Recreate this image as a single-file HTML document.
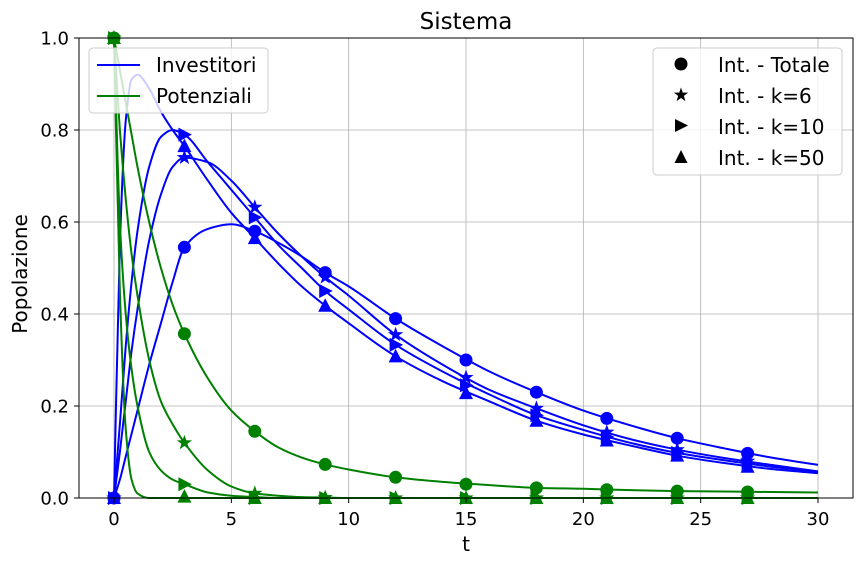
<!DOCTYPE html>
<html><head><meta charset="utf-8"><style>
html,body{margin:0;padding:0;background:#fff;}
svg text{font-family:"DejaVu Sans","Liberation Sans",sans-serif;}
</style></head><body>
<svg id="chart" width="863" height="564" xmlns="http://www.w3.org/2000/svg">
<g id="grid"></g>
<g id="lines"></g>
<g id="marks"></g>
<rect x="79" y="38" width="774" height="460" fill="none" stroke="#000" stroke-width="1"/>
<g id="ticks"></g>
<text x="466" y="29" font-size="23" text-anchor="middle">Sistema</text>
<text x="466" y="551" font-size="20" text-anchor="middle">t</text>
<text x="27" y="274" font-size="20" text-anchor="middle" transform="rotate(-90 27 274)">Popolazione</text>
<g>
<rect x="89" y="48" width="179" height="65" rx="4" fill="#fff" fill-opacity="0.8" stroke="#ccc"/>
<line x1="97" y1="65" x2="140" y2="65" stroke="#0000ff" stroke-width="2"/>
<text x="156" y="72" font-size="20">Investitori</text>
<line x1="97" y1="96" x2="140" y2="96" stroke="#008000" stroke-width="2"/>
<text x="156" y="103" font-size="20">Potenziali</text>
</g>
<g>
<rect x="653" y="48" width="189" height="127" rx="4" fill="#fff" fill-opacity="0.8" stroke="#ccc"/>
<circle cx="681" cy="64" r="6.5" fill="#000"/>
<text x="718" y="72" font-size="20">Int. - Totale</text>
<polygon id="lgstar" fill="#000"/>
<text x="718" y="103" font-size="20">Int. - k=6</text>
<polygon points="675,119 675,132 688,125.5" fill="#000"/>
<text x="718" y="134" font-size="20">Int. - k=10</text>
<polygon points="674.5,163 687.5,163 681,150" fill="#000"/>
<text x="718" y="165" font-size="20">Int. - k=50</text>
</g>
</svg>
<script>
const tGrid=[0,0.25,0.5,0.75,1,1.5,2,2.5,3,4,5,6,7,8,9,10,12,14,16,18,20,22,24,26,28,30];
const invTotale=[0,.04,.09,.14,.19,.29,.38,.47,.545,.585,.595,.58,.555,.525,.49,.46,.39,.33,.275,.23,.19,.158,.13,.108,.088,.072];
const invK6=[0,.1,.21,.32,.41,.56,.66,.72,.74,.73,.69,.632,.575,.525,.48,.44,.355,.29,.235,.195,.158,.128,.105,.087,.072,.058];
const invK10=[0,.16,.33,.47,.58,.72,.785,.80,.79,.73,.67,.61,.55,.50,.45,.41,.333,.275,.225,.18,.148,.12,.098,.082,.068,.056];
const invK50=[0,.55,.82,.91,.92,.89,.84,.80,.765,.69,.62,.565,.51,.46,.418,.38,.308,.254,.21,.168,.138,.114,.092,.076,.063,.054];
const potTotale=[1,.93,.86,.79,.72,.6,.5,.42,.357,.26,.19,.145,.11,.088,.073,.062,.045,.035,.028,.022,.02,.017,.015,.014,.013,.012];
const potK6=[1,.8,.65,.53,.44,.3,.21,.16,.12,.06,.025,.01,.005,.002,.001,0,0,0,0,0,0,0,0,0,0,0];
const potK10=[1,.6,.4,.28,.2,.1,.06,.04,.03,.012,.005,.002,0,0,0,0,0,0,0,0,0,0,0,0,0,0];
const potK50=[1,.45,.15,.04,.01,0,0,0,0,0,0,0,0,0,0,0,0,0,0,0,0,0,0,0,0,0];
const tMark=[0,3,6,9,12,15,18,21,24,27];
const mInvTotale=[0,.545,.58,.49,.39,.30,.23,.173,.13,.097];
const mInvK6=[0,.74,.632,.48,.355,.262,.195,.143,.105,.08];
const mInvK10=[0,.79,.61,.45,.333,.245,.18,.133,.098,.074];
const mInvK50=[0,.765,.565,.418,.308,.228,.168,.125,.092,.068];
const mPotTotale=[1,.357,.145,.073,.045,.03,.022,.018,.015,.013];
const mPotK6=[1,.12,.01,.001,0,0,0,0,0,0];
const mPotK10=[1,.03,0,0,0,0,0,0,0,0];
const mPotK50=[1,.003,0,0,0,0,0,0,0,0];
const xTicks=[0,5,10,15,20,25,30];
const yTicks=[0,0.2,0.4,0.6,0.8,1.0];
const yTickLabels=["0.0","0.2","0.4","0.6","0.8","1.0"];

const NS="http://www.w3.org/2000/svg";
const X=v=>114+v*(818-114)/30;
const Y=v=>498-v*460;
function mk(tag,attrs,parent){const e=document.createElementNS(NS,tag);for(const k in attrs)e.setAttribute(k,attrs[k]);parent.appendChild(e);return e;}
const grid=document.getElementById('grid'),ticks=document.getElementById('ticks');
xTicks.forEach(v=>{
  const g=mk('line',{x1:X(v),x2:X(v),y1:38,y2:498,stroke:'#b0b0b0','stroke-width':0.8},grid);
  
  const t=mk('line',{x1:X(v),x2:X(v),y1:498,y2:503,stroke:'#000'},ticks);
  
  const l=mk('text',{x:X(v),y:525,'font-size':18,'text-anchor':'middle'},ticks);l.textContent=v;
  
});
yTicks.forEach((v,i)=>{
  const g=mk('line',{x1:79,x2:853,y1:Y(v),y2:Y(v),stroke:'#b0b0b0','stroke-width':0.8},grid);
  
  const t=mk('line',{x1:74,x2:79,y1:Y(v),y2:Y(v),stroke:'#000'},ticks);
  
  const l=mk('text',{x:69,y:Y(v)+6.5,'font-size':18,'text-anchor':'end'},ticks);l.textContent=yTickLabels[i];
  
});
function pathFor(ts,vs){
  const n=ts.length,d=[],m=new Array(n);
  for(let i=0;i<n-1;i++)d.push((vs[i+1]-vs[i])/(ts[i+1]-ts[i]));
  m[0]=d[0];m[n-1]=d[n-2];
  for(let i=1;i<n-1;i++){
    if(d[i-1]*d[i]<=0)m[i]=0;
    else{const h0=ts[i]-ts[i-1],h1=ts[i+1]-ts[i];const w1=2*h1+h0,w2=h1+2*h0;m[i]=(w1+w2)/(w1/d[i-1]+w2/d[i]);}
  }
  let s='M'+X(ts[0])+','+Y(vs[0]);
  for(let i=0;i<n-1;i++){
    const h=ts[i+1]-ts[i];
    s+=' C'+X(ts[i]+h/3)+','+Y(vs[i]+m[i]*h/3)+' '+X(ts[i+1]-h/3)+','+Y(vs[i+1]-m[i+1]*h/3)+' '+X(ts[i+1])+','+Y(vs[i+1]);
  }
  return s;
}
const lines=document.getElementById('lines'),marks=document.getElementById('marks');
const series=[
 ['investitori-totale',invTotale,mInvTotale,'#0000ff','circle'],
 ['investitori-k6',invK6,mInvK6,'#0000ff','star'],
 ['investitori-k10',invK10,mInvK10,'#0000ff','tri-right'],
 ['investitori-k50',invK50,mInvK50,'#0000ff','tri-up'],
 ['potenziali-totale',potTotale,mPotTotale,'#008000','circle'],
 ['potenziali-k6',potK6,mPotK6,'#008000','star'],
 ['potenziali-k10',potK10,mPotK10,'#008000','tri-right'],
 ['potenziali-k50',potK50,mPotK50,'#008000','tri-up']];
function starPts(cx,cy,R){const r=R*0.4;let s=[];for(let i=0;i<10;i++){const a=-Math.PI/2+i*Math.PI/5,rr=i%2?r:R;s.push((cx+rr*Math.cos(a)).toFixed(2)+','+(cy+rr*Math.sin(a)).toFixed(2));}return s.join(' ');}
function marker(type,cx,cy,col,parent){
  if(type==='circle')return mk('circle',{cx,cy,r:6.5,fill:col},parent);
  if(type==='star')return mk('polygon',{points:starPts(cx,cy,8),fill:col},parent);
  if(type==='tri-right')return mk('polygon',{points:`${cx-6},${cy-7} ${cx-6},${cy+7} ${cx+7.5},${cy}`,fill:col},parent);
  return mk('polygon',{points:`${cx-7},${cy+6} ${cx+7},${cy+6} ${cx},${cy-7.5}`,fill:col},parent);
}
series.forEach(s=>{
  const l=mk('path',{d:pathFor(tGrid,s[1]),fill:'none',stroke:s[3],'stroke-width':2},lines);
  
});
series.forEach(s=>{
  tMark.forEach((t,i)=>{
    const m=marker(s[4],X(t),Y(s[2][i]),s[3],marks);
    
  });
});
document.getElementById('lgstar').setAttribute('points',starPts(681,95,7.5));
</script>
</body></html>
